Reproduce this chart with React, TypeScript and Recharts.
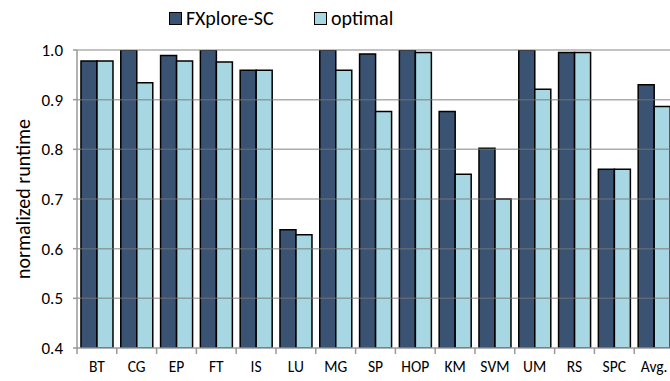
import { Bar, BarChart, ReferenceLine, XAxis, YAxis } from "recharts";

const categories = ["BT", "CG", "EP", "FT", "IS", "LU", "MG", "SP", "HOP", "KM", "SVM", "UM", "RS", "SPC", "Avg."];
const fxplore = [0.978, 1.0, 0.989, 1.0, 0.959, 0.638, 1.0, 0.992, 1.0, 0.876, 0.802, 1.0, 0.995, 0.76, 0.93];
const optimal = [0.978, 0.934, 0.978, 0.976, 0.959, 0.628, 0.959, 0.876, 0.995, 0.75, 0.7, 0.921, 0.995, 0.76, 0.886];
const yTicks = [0.4, 0.5, 0.6, 0.7, 0.8, 0.9, 1.0];
const gridLines = [0.5, 0.6, 0.7, 0.8, 0.9, 1.0];

const DARK = "#3b5373";
const LIGHT = "#a7d7e2";
const FONT = "Carlito, Calibri, 'Open Sans', sans-serif";

const data = categories.map((name, i) => ({ name, fxplore: fxplore[i], optimal: optimal[i] }));

function CategoryTick(props: any) {
  const { x, y, payload } = props;
  const half = payload?.offset ?? 19.9;
  return (
    <g>
      <line x1={x - half} y1={y - 8} x2={x - half} y2={y - 2} stroke="#999" strokeWidth={1.5} />
      <text x={x} y={y + 16} textAnchor="middle" fontSize={15.5} fill="#000" fontFamily={FONT}>
        {payload.value}
      </text>
    </g>
  );
}

function TopLegend() {
  const items = [
    { label: "FXplore-SC", color: DARK, left: 169 },
    { label: "optimal", color: LIGHT, left: 314 },
  ];
  return (
    <>
      {items.map((it) => (
        <div
          key={it.label}
          style={{ position: "absolute", top: 6, left: it.left, display: "flex", alignItems: "center", fontFamily: FONT, fontSize: 20, lineHeight: "24px" }}
        >
          <span style={{ display: "inline-block", width: 11, height: 11, background: it.color, border: "1px solid #000", marginRight: 4 }} />
          <span>{it.label}</span>
        </div>
      ))}
    </>
  );
}

export default function App() {
  return (
    <div style={{ position: "absolute", left: 0, top: 0, width: 670, height: 381, overflow: "hidden", background: "#fff" }}>
      <TopLegend />
      <div style={{ position: "absolute", left: 0, top: 0 }}>
        <BarChart
          width={676}
          height={381}
          data={data}
          margin={{ top: 50, right: 2, bottom: 0, left: 0 }}
          barCategoryGap="10%"
          barGap={0}
        >
          <YAxis
            domain={[0.4, 1.0]}
            ticks={yTicks}
            allowDataOverflow
            width={77}
            tickFormatter={(v: number) => v.toFixed(1)}
            tick={{ fontSize: 17, fill: "#000", fontFamily: FONT }}
            tickSize={4}
            tickMargin={10}
            axisLine={{ stroke: "#999", strokeWidth: 1.5 }}
            tickLine={{ stroke: "#999", strokeWidth: 1.5 }}
            label={{
              value: "normalized runtime",
              angle: -90,
              position: "insideLeft",
              offset: 23,
              style: { textAnchor: "middle", fontSize: 20, fill: "#000", fontFamily: FONT },
            }}
          />
          <XAxis
            dataKey="name"
            height={33}
            interval={0}
            tickLine={false}
            axisLine={{ stroke: "#999", strokeWidth: 1.5 }}
            tick={<CategoryTick />}
          />
          <Bar dataKey="fxplore" fill={DARK} stroke="#000" strokeWidth={1.5} isAnimationActive={false} />
          <Bar dataKey="optimal" fill={LIGHT} stroke="#000" strokeWidth={1.5} isAnimationActive={false} />
          {gridLines.map((v) => (
            <ReferenceLine key={v} y={v} stroke="#777" strokeOpacity={0.6} strokeWidth={1.5} />
          ))}
        </BarChart>
      </div>
    </div>
  );
}
